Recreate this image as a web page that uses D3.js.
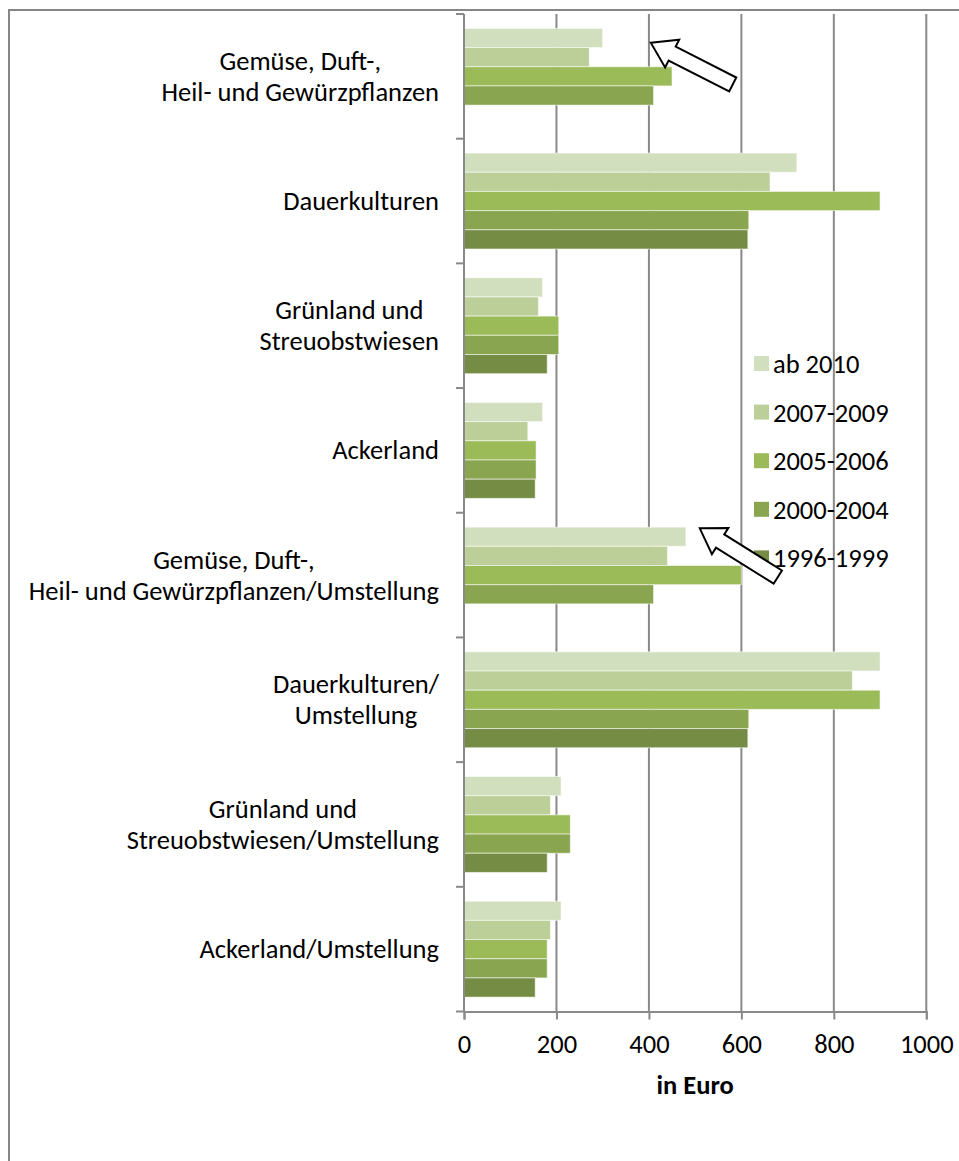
<!DOCTYPE html>
<html>
<head>
<meta charset="utf-8">
<script src="https://cdn.jsdelivr.net/npm/d3@7"></script>
<style>
  html, body { margin: 0; padding: 0; background: #fff; }
  svg { display: block; }
  text { font-family: Carlito, Calibri, Lato, "Open Sans", sans-serif; fill: #000; }
</style>
</head>
<body>
<svg id="chart" width="959" height="1161"></svg>
<script>
// Category labels (wrapped lines), top to bottom
const categoryLines = [
  ["Gemüse, Duft-,", "Heil- und Gewürzpflanzen"],
  ["Dauerkulturen"],
  ["Grünland und", "Streuobstwiesen"],
  ["Ackerland"],
  ["Gemüse, Duft-,", "Heil- und Gewürzpflanzen/Umstellung"],
  ["Dauerkulturen/", "Umstellung"],
  ["Grünland und", "Streuobstwiesen/Umstellung"],
  ["Ackerland/Umstellung"]
];

// Series names, drawn top to bottom within each category
const seriesNames = ["ab 2010", "2007-2009", "2005-2006", "2000-2004", "1996-1999"];

// Funding per hectare in Euro, one array per period (null = no payment)
const ab2010     = [300, 720, 170, 170, 480, 900, 210, 210];
const p2007_2009 = [271, 662, 161, 138, 440, 840, 187, 187];
const p2005_2006 = [450, 900, 205, 156, 600, 900, 230, 180];
const p2000_2004 = [410, 616, 205, 156, 410, 616, 230, 180];
const p1996_1999 = [null, 614, 180, 154, null, 614, 180, 154];

const seriesColors = ["#d2dfbf", "#bccf98", "#9bbb59", "#8aa550", "#758c44"];
const xTicks = [0, 200, 400, 600, 800, 1000];
const xTitle = "in Euro";

// Block arrows pointing at the latest rates: category index, value at the tip
const arrows = [
  { cat: 0, value: 404, rel: 0.23, angle: 27 },
  { cat: 4, value: 510, rel: 0.125, angle: 32 }
];

const seriesValues = [ab2010, p2007_2009, p2005_2006, p2000_2004, p1996_1999];

const svg = d3.select("#chart");
const FONT = 26.5;

// outer chart frame
svg.append("rect")
  .attr("x", 9).attr("y", 10)
  .attr("width", 980).attr("height", 1200)
  .attr("fill", "#fff").attr("stroke", "#868686").attr("stroke-width", 2);

const plot = { left: 464, right: 926.3, top: 14, bottom: 1011.5 };

const cats = d3.range(categoryLines.length);
const x = d3.scaleLinear().domain([0, 1000]).range([plot.left, plot.right]);
const y0 = d3.scaleBand().domain(cats).range([plot.top, plot.bottom]).padding(0);
const y1 = d3.scaleBand().domain(seriesNames).range([0, y0.bandwidth()])
  .paddingInner(0).paddingOuter(0.75);

const gridColor = "#898989";

// vertical gridlines
svg.append("g").selectAll("line")
  .data(xTicks.slice(1))
  .join("line")
  .attr("x1", d => x(d)).attr("x2", d => x(d))
  .attr("y1", plot.top).attr("y2", plot.bottom)
  .attr("stroke", gridColor).attr("stroke-width", 2);

// bars
const barG = svg.append("g");
cats.forEach(ci => {
  seriesNames.forEach((s, si) => {
    const v = seriesValues[si][ci];
    if (v == null) return;
    barG.append("rect")
      .attr("x", x(0))
      .attr("y", y0(ci) + y1(s))
      .attr("width", x(v) - x(0))
      .attr("height", y1.bandwidth())
      .attr("fill", seriesColors[si])
      .attr("stroke", "rgba(255,255,255,0.55)")
      .attr("stroke-width", 1);
  });
});

// value axis (bottom)
const xAxis = d3.axisBottom(x).tickValues(xTicks).tickSize(8).tickPadding(15)
  .tickFormat(d3.format("d"));
const gx = svg.append("g").attr("transform", `translate(0,${plot.bottom})`).call(xAxis);
gx.select(".domain").attr("stroke", gridColor).attr("stroke-width", 2);
gx.selectAll(".tick line").attr("stroke", gridColor).attr("stroke-width", 2);
gx.selectAll(".tick text")
  .attr("font-family", "Carlito, Calibri, Lato, sans-serif")
  .attr("font-size", FONT).attr("fill", "#000");

svg.append("text")
  .attr("x", (plot.left + plot.right) / 2).attr("y", 1094)
  .attr("text-anchor", "middle")
  .attr("font-size", FONT).attr("font-weight", "bold")
  .text(xTitle);

// category axis line and ticks
svg.append("line")
  .attr("x1", plot.left).attr("x2", plot.left)
  .attr("y1", plot.top).attr("y2", plot.bottom)
  .attr("stroke", gridColor).attr("stroke-width", 2);
svg.append("g").selectAll("line")
  .data(cats.concat([cats.length]))
  .join("line")
  .attr("x1", plot.left - 8).attr("x2", plot.left)
  .attr("y1", d => d < cats.length ? y0(d) : plot.bottom)
  .attr("y2", d => d < cats.length ? y0(d) : plot.bottom)
  .attr("stroke", gridColor).attr("stroke-width", 2);

// category labels: lines centred on each other, block right-aligned to the axis
const lineH = 31;
const labelRight = 439;
cats.forEach(ci => {
  const lines = categoryLines[ci];
  const cy = y0(ci) + y0.bandwidth() / 2;
  const g = svg.append("g");
  const texts = lines.map((t, li) => g.append("text")
    .attr("font-size", FONT)
    .attr("text-anchor", "middle")
    .attr("dominant-baseline", "central")
    .attr("y", cy + (li - (lines.length - 1) / 2) * lineH)
    .text(t));
  const w = d3.max(texts, t => t.node().getComputedTextLength());
  texts.forEach(t => t.attr("x", labelRight - w / 2));
});

// legend
const legend = svg.append("g").attr("transform", "translate(754,356)");
seriesNames.forEach((s, i) => {
  const row = legend.append("g").attr("transform", `translate(0,${i * 48.6})`);
  row.append("rect").attr("width", 15).attr("height", 15).attr("fill", seriesColors[i]);
  row.append("text").attr("x", 19).attr("y", 8)
    .attr("dominant-baseline", "central")
    .attr("font-size", FONT).text(s);
});

// block arrows
const arrowLen = 92, headLen = 24, headHalf = 15.5, shaftHalf = 7.8;
arrows.forEach(a => {
  const tipX = x(a.value);
  const tipY = y0(a.cat) + a.rel * y0.bandwidth();
  const pts = [
    [0, 0], [headLen, -headHalf], [headLen, -shaftHalf], [arrowLen, -shaftHalf],
    [arrowLen, shaftHalf], [headLen, shaftHalf], [headLen, headHalf]
  ];
  svg.append("polygon")
    .attr("points", pts.map(p => p.join(",")).join(" "))
    .attr("transform", `translate(${tipX},${tipY}) rotate(${a.angle})`)
    .attr("fill", "#fff").attr("stroke", "#000").attr("stroke-width", 2)
    .attr("stroke-linejoin", "miter");
});
</script>
</body>
</html>
